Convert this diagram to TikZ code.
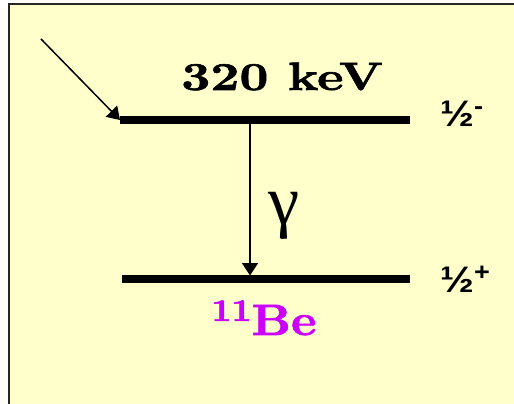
\documentclass[tikz,border=0pt]{standalone}
\usepackage{fontspec}
\usetikzlibrary{arrows.meta}
\newfontfamily\spinfont[FakeStretch=1.1]{Liberation Sans}
\newfontfamily\greekfont{Liberation Serif}
\newfontfamily\widefont[FakeStretch=1.28,FakeBold=1.5]{lmroman10-bold.otf}
\newfontfamily\nuclfont[FakeStretch=1.1,FakeBold=1.5]{lmroman10-bold.otf}
\definecolor{slideyellow}{HTML}{FFFFCC}
\definecolor{beviolet}{HTML}{CC00FF}

\begin{document}
\begin{tikzpicture}[x=0.02cm,y=-0.02cm,
  level/.style={line width=4pt},
  decay/.style={-{Triangle[length=7pt,width=9pt]},line width=0.85pt},
  spin/.style={anchor=base west,inner sep=0pt,
    font=\spinfont\bfseries\fontsize{21}{21}\selectfont}]
  \useasboundingbox (0,0) rectangle (514,404);
  \fill[white](0,0) rectangle (514,404);
  \fill[slideyellow](9,4) rectangle (514,404);
  \draw[black!85,line width=1.3pt](9,404)--(9,4)--(514,4);
  % levels
  \coordinate (upL) at (120,120);
  \coordinate (upR) at (410,120);
  \coordinate (loL) at (122,279);
  \coordinate (loR) at (410,279);
  \coordinate (feed) at (41,39);
  \coordinate (gtop) at (250,123.5);
  \coordinate (gbot) at (250,275.5);
  \draw[level](upL)--(upR);
  \draw[level](loL)--(loR);
  \draw[decay](feed)--(upL);
  \draw[decay](gtop)--(gbot);
  \node[anchor=base,inner sep=0pt,
        font=\widefont\fontsize{22.5}{26}\selectfont](en) at (282,90){320 keV};
  \node[anchor=base,inner sep=0pt,
        font=\greekfont\fontsize{40}{40}\selectfont](gam) at (284,225){γ};
  \node[spin](sup) at (440,127){½\raisebox{7pt}{\fontsize{14}{14}\selectfont -}};
  \node[spin](sdn) at (440,293){½\raisebox{7pt}{\fontsize{14}{14}\selectfont +}};
  \node[anchor=base,inner sep=0pt,text=beviolet,
        font=\nuclfont\fontsize{25}{28}\selectfont](be) at (264,335)
        {\raisebox{8pt}{\fontsize{18}{18}\selectfont 11}Be};
\end{tikzpicture}
\end{document}
